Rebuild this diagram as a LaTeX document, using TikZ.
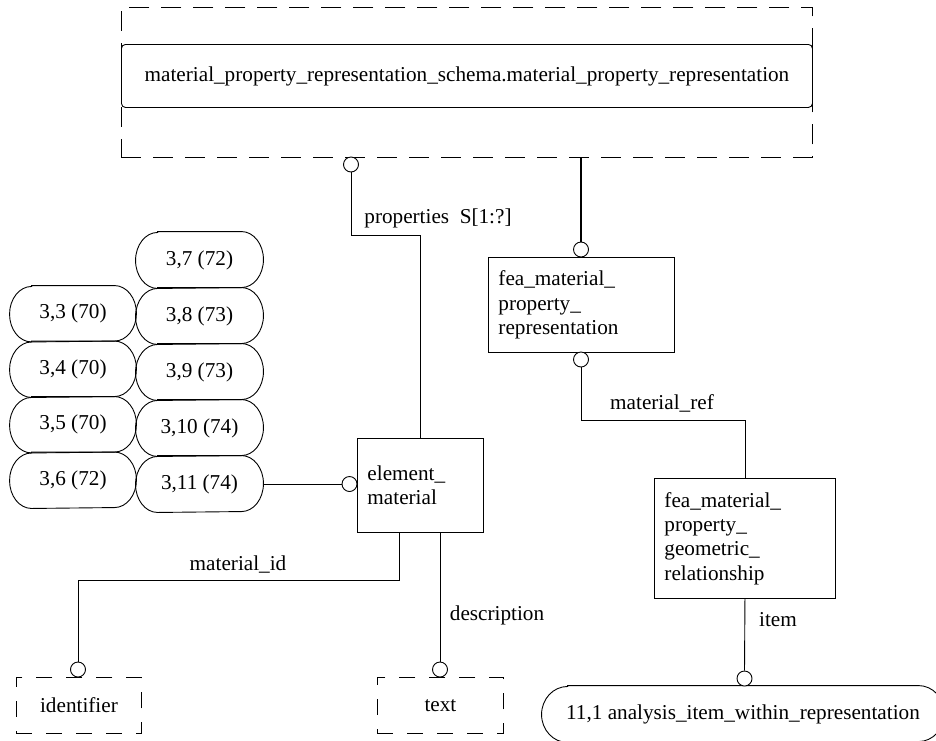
\documentclass[tikz,border=0pt]{standalone}
\usepackage{fontspec}
\setmainfont{Liberation Serif}
\begin{document}
\begin{tikzpicture}[x=1pt,y=-1pt,line width=0.9pt,
  every node/.style={font=\fontsize{21.2}{24.4}\selectfont},
  lbl/.style={inner sep=0pt},
  ent/.style={draw, rectangle, align=left, inner xsep=10pt, inner ysep=0pt, anchor=north west},
  circ/.style={draw, circle, minimum size=15pt, inner sep=0pt, fill=white},
  oval/.style={rectangle, minimum height=55.5pt, inner sep=0pt},
  dbox/.style={draw, dash pattern=on 16pt off 14pt, minimum width=125pt, minimum height=56pt, inner sep=0pt, anchor=north west}
]
\useasboundingbox (0,0) rectangle (936,740);
\clip (0,0) rectangle (936,740);

% schema reference box
\node[draw, dash pattern=on 20pt off 12pt, minimum width=691pt, minimum height=150pt, inner sep=0pt, anchor=north west] (schema) at (121,7) {};
\node[draw, rounded corners=4pt, minimum width=691pt, minimum height=63pt, inner sep=0pt, anchor=north west] (mpr) at (121,44)
  {material\_property\_representation\_schema.material\_property\_representation};

% entities
\node[ent, text width=166pt, minimum height=95pt] (fmpr) at (488,257)
  {fea\_material\_\\property\_\\representation};
\node[ent, text width=161pt, minimum height=120pt] (fgr) at (654,478)
  {fea\_material\_\\property\_\\geometric\_\\relationship};
\node[ent, text width=106pt, minimum height=94pt] (elem) at (357,438)
  {element\_\\material};

% referenced types
\node[dbox] (ident) at (16,677) {};
\node at (ident.center) {identifier};
\node[dbox, minimum width=126pt] (txt) at (377,677) {};
\node at (txt.center) {text};
\node[oval, minimum width=402pt, minimum height=56pt] (anal) at (743,714) {11,1 analysis\_item\_within\_representation};

% page references
\node[oval, minimum width=126pt] (o33) at (73,313.75) {3,3 (70)};
\node[oval, minimum width=126pt] (o34) at (73,369.25) {3,4 (70)};
\node[oval, minimum width=126pt] (o35) at (73,424.75) {3,5 (70)};
\node[oval, minimum width=126pt] (o36) at (73,480.25) {3,6 (72)};
\node[oval, minimum width=127pt, minimum height=56pt] (o37) at (199.5,260) {3,7 (72)};
\node[oval, minimum width=127pt, minimum height=56pt] (o38) at (199.5,316) {3,8 (73)};
\node[oval, minimum width=127pt, minimum height=56pt] (o39) at (199.5,372) {3,9 (73)};
\node[oval, minimum width=127pt, minimum height=56pt] (o310) at (199.5,428) {3,10 (74)};
\node[oval, minimum width=127pt, minimum height=56pt] (o311) at (199.5,484) {3,11 (74)};

% outlines with elliptical ends
\foreach \n in {o33,o34,o35,o36}
  \draw ([xshift=22pt]\n.north west) -- ([xshift=-22pt]\n.north east)
    arc[start angle=90, end angle=-90, x radius=22pt, y radius=27.75pt]
    -- ([xshift=22pt]\n.south west)
    arc[start angle=270, end angle=90, x radius=22pt, y radius=27.75pt] -- cycle;
\foreach \n in {o37,o38,o39,o310,o311}
  \draw ([xshift=22pt]\n.north west) -- ([xshift=-22pt]\n.north east)
    arc[start angle=90, end angle=-90, x radius=22pt, y radius=28pt]
    -- ([xshift=22pt]\n.south west)
    arc[start angle=270, end angle=90, x radius=22pt, y radius=28pt] -- cycle;
\draw ([xshift=26pt]anal.north west) -- ([xshift=-26pt]anal.north east)
    arc[start angle=90, end angle=-90, x radius=26pt, y radius=28pt]
    -- ([xshift=26pt]anal.south west)
    arc[start angle=270, end angle=90, x radius=26pt, y radius=28pt] -- cycle;

% relationship circles
\node[circ] (cprop) at (351,164.5) {};
\node[circ] (cf1) at (581,249.5) {};
\node[circ] (cf2) at (581,359.5) {};
\node[circ] (celem) at (349.5,484) {};
\node[circ] (cid) at (78,669.5) {};
\node[circ] (ctxt) at (440,669.5) {};
\node[circ] (canal) at (744.5,678.5) {};

% bend points
\coordinate (bprop) at (351,235);
\coordinate (bref) at (581,420);
\coordinate (bid) at (399,580);

% connectors
\draw (cprop.south) -- (bprop) -| (elem.north);
\draw[line width=1.5pt] (cf1.north |- schema.south) -- (cf1.north);
\draw (cf2.south) -- (bref) -| (fgr.north);
\draw (fgr.south) -- (canal.north);
\draw (o311.east) -- (celem.west);
\draw (bid |- elem.south) -- (bid) -| (cid.north);
\draw (ctxt |- elem.south) -- (ctxt.north);

% attribute labels
\node[lbl] (lprop) at (438,218) {properties\ \ S[1:?]};
\node[lbl] (lref) at (662,403) {material\_ref};
\node[lbl] (lid) at (238,564) {material\_id};
\node[lbl] (ldesc) at (497,615) {description};
\node[lbl] (litem) at (778,620) {item};
\end{tikzpicture}
\end{document}
